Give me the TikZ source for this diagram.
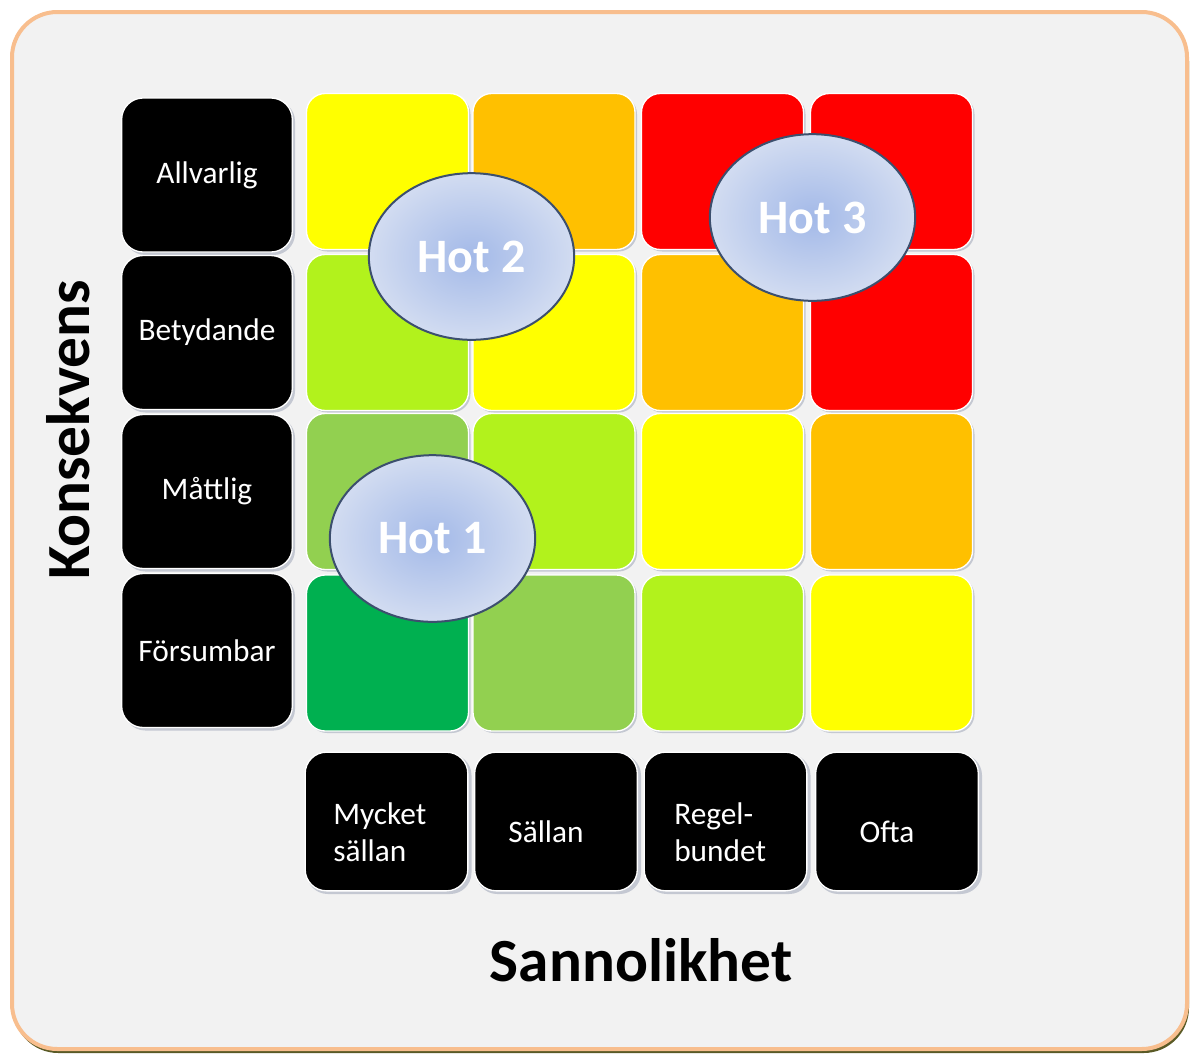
\documentclass[tikz,border=0pt]{standalone}
\usepackage{fontspec}
\setmainfont{Carlito}
\usetikzlibrary{shapes.geometric}
\definecolor{cYel}{HTML}{FFFF00}
\definecolor{cOra}{HTML}{FFC000}
\definecolor{cRed}{HTML}{FF0000}
\definecolor{cLim}{HTML}{B2F21C}
\definecolor{cMid}{HTML}{92D050}
\definecolor{cDrk}{HTML}{00B050}
\definecolor{bgFill}{HTML}{F2F2F2}
\definecolor{bgLine}{HTML}{F8BE8E}
\definecolor{bgShadow}{HTML}{5A5A26}
\definecolor{elLine}{HTML}{3C4F6E}
\definecolor{elIn}{HTML}{A3B9E8}
\definecolor{elOut}{HTML}{D2DCF1}
\definecolor{cellShadow}{HTML}{C4C8D2}
\tikzset{
  cellbox/.style={rectangle, rounded corners=14pt, draw=white, line width=1pt,
    minimum width=121.5pt, minimum height=117pt, inner sep=0pt},
  labbox/.style={rectangle, rounded corners=16pt, fill=black, draw=white, line width=1pt,
    text=white, font=\fontsize{23.5}{28}\selectfont, inner sep=0pt},
  hotell/.style={ellipse, draw=elLine, line width=1.5pt, inner color=elIn, outer color=elOut,
    minimum width=154pt, minimum height=125pt, inner sep=0pt, text=white,
    font=\bfseries\fontsize{36}{40}\selectfont},
  axtitle/.style={font=\bfseries\fontsize{46}{50}\selectfont, text=black, inner sep=0pt}
}
\begin{document}
\begin{tikzpicture}[x=0.75pt,y=-0.75pt]
\useasboundingbox (0,0) rectangle (1192,1057);
% outer panel
\fill[bgShadow, rounded corners=34pt] (13,16) rectangle (1189,1053);
\filldraw[fill=bgFill, draw=bgLine, line width=3pt, rounded corners=34pt] (12,12) rectangle (1187,1049);
% cell shadows
\foreach \cx in {387.5,554,722.5,891.5}{
  \foreach \cy in {171.5,332.5,491.5,653}{
    \fill[cellShadow, rounded corners=14pt] (\cx-79,\cy-76) rectangle (\cx+83,\cy+80);
  }
}
\foreach \cx in {207}{
  \foreach \cy in {175,332.5,491.5,650.5}{
    \fill[cellShadow, rounded corners=16pt] (\cx-83,\cy-75) rectangle (\cx+88,\cy+80);
  }
}
\foreach \cx in {386.5,556,725.5,897}{
  \fill[cellShadow, rounded corners=16pt] (\cx-80,754) rectangle (\cx+85,894);
}
% grid cells
\node[cellbox, fill=cYel] (c11) at (387.5,171.5) {};
\node[cellbox, fill=cOra] (c12) at (554,171.5) {};
\node[cellbox, fill=cRed] (c13) at (722.5,171.5) {};
\node[cellbox, fill=cRed] (c14) at (891.5,171.5) {};
\node[cellbox, fill=cLim] (c21) at (387.5,332.5) {};
\node[cellbox, fill=cYel] (c22) at (554,332.5) {};
\node[cellbox, fill=cOra] (c23) at (722.5,332.5) {};
\node[cellbox, fill=cRed] (c24) at (891.5,332.5) {};
\node[cellbox, fill=cMid] (c31) at (387.5,491.5) {};
\node[cellbox, fill=cLim] (c32) at (554,491.5) {};
\node[cellbox, fill=cYel] (c33) at (722.5,491.5) {};
\node[cellbox, fill=cOra] (c34) at (891.5,491.5) {};
\node[cellbox, fill=cDrk] (c41) at (387.5,653) {};
\node[cellbox, fill=cMid] (c42) at (554,653) {};
\node[cellbox, fill=cLim] (c43) at (722.5,653) {};
\node[cellbox, fill=cYel] (c44) at (891.5,653) {};
% row labels
\node[labbox, minimum width=128pt, minimum height=115.5pt] (r1) at (207,175) {Allvarlig};
\node[labbox, minimum width=128pt, minimum height=115.5pt] (r2) at (207,332.5) {Betydande};
\node[labbox, minimum width=128pt, minimum height=115.5pt] (r3) at (207,491.5) {Måttlig};
\node[labbox, minimum width=128pt, minimum height=115.5pt] (r4) at (207,650.5) {Försumbar};
% column labels
\node[labbox, minimum width=122pt, minimum height=104pt] (k1) at (386.5,821.5) {};
\node[labbox, minimum width=122pt, minimum height=104pt] (k2) at (556,821.5) {};
\node[labbox, minimum width=122pt, minimum height=104pt] (k3) at (725.5,821.5) {};
\node[labbox, minimum width=122pt, minimum height=104pt] (k4) at (897,821.5) {};
\node[text=white, font=\fontsize{23.5}{28}\selectfont, align=left, anchor=west, inner sep=0pt] (t1) at (333,832) {Mycket\\sällan};
\node[text=white, font=\fontsize{23.5}{28}\selectfont, inner sep=0pt] (t2) at (546,832) {Sällan};
\node[text=white, font=\fontsize{23.5}{28}\selectfont, align=left, anchor=west, inner sep=0pt] (t3) at (674,832) {Regel-\\bundet};
\node[text=white, font=\fontsize{23.5}{28}\selectfont, inner sep=0pt] (t4) at (887,832) {Ofta};
% threats
\node[hotell] (h2) at (471.5,256.5) {Hot 2};
\node[hotell] (h3) at (812.5,217.5) {Hot 3};
\node[hotell] (h1) at (432.5,538.5) {Hot 1};
% axis titles
\node[axtitle] (ay) at (68,430) [rotate=90] {Konsekvens};
\node[axtitle] (ax) at (641,960) {Sannolikhet};
\end{tikzpicture}
\end{document}
